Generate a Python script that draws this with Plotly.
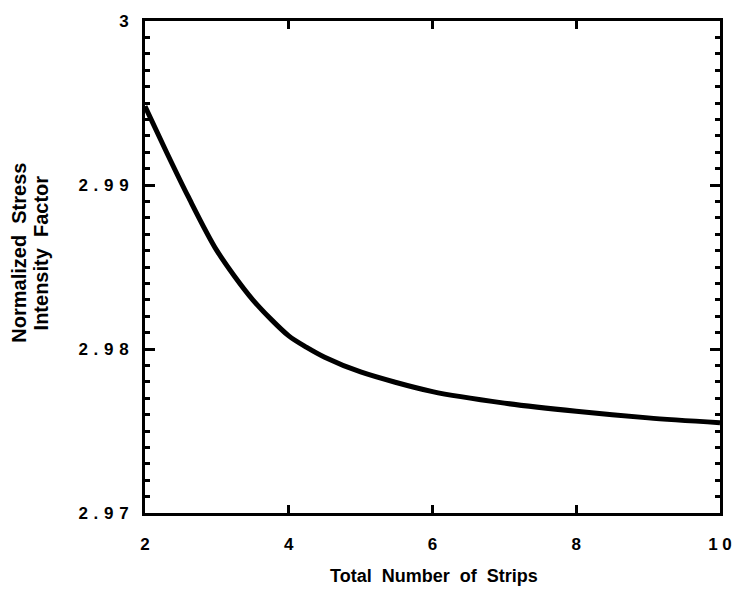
import plotly.graph_objects as go

strips = [2, 2.3, 2.6, 3, 3.5, 4, 4.25, 4.5, 5, 6, 7, 8, 9, 10]
sif = [2.9948, 2.9920, 2.9893, 2.9860, 2.9830, 2.9808, 2.9801, 2.9795,
       2.9786, 2.9774, 2.9767, 2.9762, 2.9758, 2.9755]

x_tickvals = [2, 4, 6, 8, 10]
x_ticktext = ["2", "4", "6", "8", "1 0"]
y_tickvals = [2.97, 2.98, 2.99, 3.0]
S = "\u2004"
y_ticktext = [S.join("2.97"), S.join("2.98"), S.join("2.99"), "3"]

x_title = "Total\u00a0\u00a0Number\u00a0\u00a0of\u00a0\u00a0Strips"
y_title_lines = ["Normalized\u00a0\u00a0Stress", "Intensity\u00a0\u00a0Factor"]

FONT = "Liberation Sans, Arial, sans-serif"

fig = go.Figure()
fig.add_trace(go.Scatter(x=strips, y=sif, mode="lines",
                         line=dict(color="black", width=5, shape="spline", smoothing=0.8),
                         showlegend=False))

W, H = 744, 591
L, R, T, B = 145, 17, 15, 78
pw, ph = W - L - R, H - T - B

fig.update_layout(
    width=W, height=H,
    margin=dict(l=L, r=R, t=T, b=B),
    paper_bgcolor="white", plot_bgcolor="white",
    font=dict(family=FONT, color="black", size=17, weight="bold"),
)
fig.update_xaxes(
    range=[2, 10], tickvals=x_tickvals, ticktext=x_ticktext,
    ticks="inside", ticklen=8, tickwidth=3, tickcolor="black",
    showline=True, linewidth=3, linecolor="black", mirror="allticks",
    showgrid=False, zeroline=False, ticklabelstandoff=14,
    tickfont=dict(family=FONT, size=17, weight="bold"),
)
fig.update_yaxes(
    range=[2.97, 3.0], tickvals=y_tickvals, ticktext=y_ticktext,
    ticks="inside", ticklen=10, tickwidth=3, tickcolor="black",
    minor=dict(dtick=0.001, ticks="inside", ticklen=5, tickwidth=3, tickcolor="black"),
    showline=True, linewidth=3, linecolor="black", mirror="allticks",
    showgrid=False, zeroline=False, ticklabelstandoff=10,
    tickfont=dict(family=FONT, size=17, weight="bold"),
)

# axis titles placed as annotations
fig.add_annotation(text=x_title, xref="paper", yref="paper",
                   x=(438 - L) / pw, y=(H - B - 577) / ph,
                   xanchor="center", yanchor="middle", showarrow=False,
                   font=dict(family=FONT, size=18, weight="bold"))
for xc, line in zip([18, 40], y_title_lines):
    fig.add_annotation(text=line, xref="paper", yref="paper",
                       x=(xc - L) / pw, y=(H - B - 250) / ph,
                       xanchor="center", yanchor="middle", showarrow=False,
                       textangle=-90,
                       font=dict(family=FONT, size=20, weight="bold"))

fig.write_html("out.html")
